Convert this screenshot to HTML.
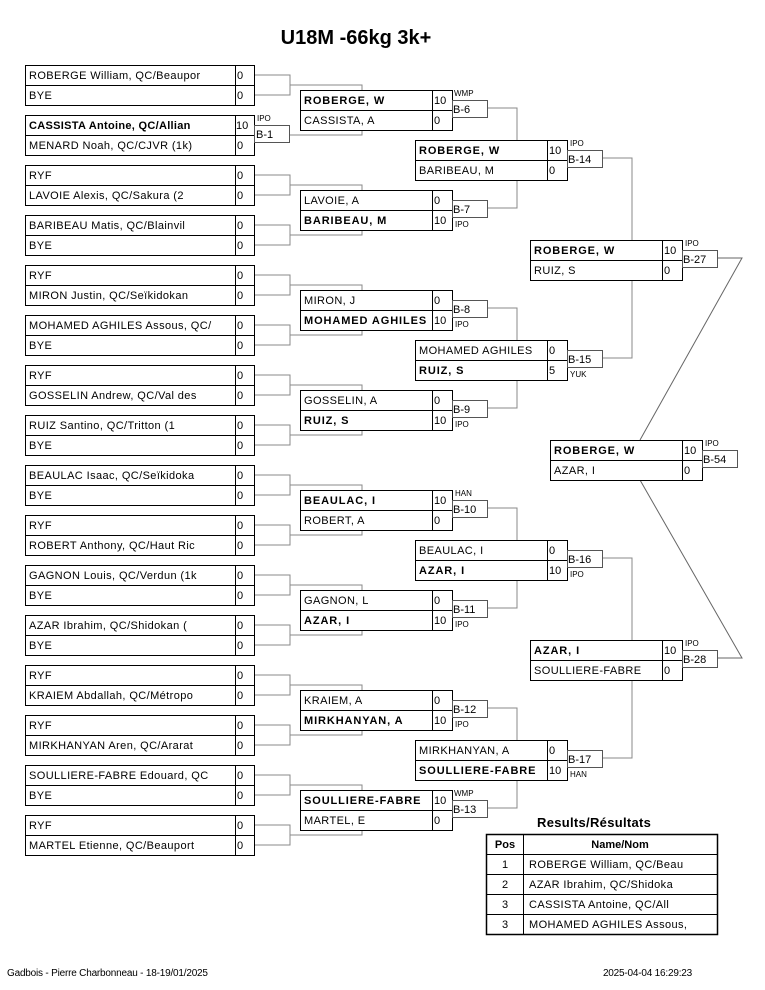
<!DOCTYPE html>
<html><head><meta charset="utf-8"><style>
html,body{margin:0;padding:0;background:#fff;}
svg{display:block;font-family:"Liberation Sans",sans-serif;}
.n{font-size:11px;letter-spacing:0.4px;fill:#000}
.b{font-size:11px;font-weight:bold;letter-spacing:0.9px;fill:#000}
.s{font-size:11px;fill:#000}
.t{font-size:10px;fill:#000}
.l{font-size:8px;fill:#000}
.box{fill:#fff;stroke:#000;stroke-width:1}
.tag{fill:#fff;stroke:#555;stroke-width:1}
.c{fill:none;stroke:#888;stroke-width:1}
</style></head><body>
<svg width="765" height="990" viewBox="0 0 765 990" xmlns="http://www.w3.org/2000/svg">
<text x="356" y="44" text-anchor="middle" style="font-size:20px;font-weight:bold">U18M -66kg 3k+</text>

<!-- connectors -->
<path class="c" d="M254 75H290V95H254M290 85H362V90
M289 135H362V130
M254 175H290V195H254M290 185H362V190
M254 225H290V245H254M290 235H362V230
M254 275H290V295H254M290 285H362V290
M254 325H290V345H254M290 335H362V330
M254 375H290V395H254M290 385H362V390
M254 425H290V445H254M290 435H362V430
M254 475H290V495H254M290 485H362V490
M254 525H290V545H254M290 535H362V530
M254 575H290V595H254M290 585H362V590
M254 625H290V645H254M290 635H362V630
M254 675H290V695H254M290 685H362V690
M254 725H290V745H254M290 735H362V730
M254 775H290V795H254M290 785H362V790
M254 825H290V845H254M290 835H362V830
M487 108H517V140 M487 208H517V180 M487 308H517V340 M487 408H517V380
M487 508H517V540 M487 608H517V580 M487 708H517V740 M487 808H517V780
M602 158H632V240 M602 358H632V280 M602 558H632V640 M602 758H632V680"/>
<path d="M717 258H742L640 440 M717 658H742L640 480" fill="none" stroke="#666" stroke-width="1"/>

<!-- Round 1 -->
<g>
<rect class="box" x="25.5" y="65.5" width="229" height="40"/><path d="M25 85.5H254M235.5 65V105" stroke="#000"/>
<text class="n" x="29" y="79">ROBERGE William, QC/Beaupor</text><text class="s" x="237" y="79">0</text>
<text class="n" x="29" y="99">BYE</text><text class="s" x="237" y="99">0</text>

<rect class="box" x="25.5" y="115.5" width="229" height="40"/><path d="M25 135.5H254M235.5 115V155" stroke="#000"/>
<text class="b" x="29" y="129" style="letter-spacing:0.3px">CASSISTA Antoine, QC/Allian</text><text class="s" x="236" y="129">10</text>
<text class="n" x="29" y="149">MENARD Noah, QC/CJVR (1k)</text><text class="s" x="237" y="149">0</text>
<rect class="tag" x="254.5" y="125.5" width="35" height="17"/><text class="s" x="256" y="138">B-1</text><text class="l" x="257" y="121">IPO</text>

<rect class="box" x="25.5" y="165.5" width="229" height="40"/><path d="M25 185.5H254M235.5 165V205" stroke="#000"/>
<text class="n" x="29" y="179">RYF</text><text class="s" x="237" y="179">0</text>
<text class="n" x="29" y="199">LAVOIE Alexis, QC/Sakura (2</text><text class="s" x="237" y="199">0</text>

<rect class="box" x="25.5" y="215.5" width="229" height="40"/><path d="M25 235.5H254M235.5 215V255" stroke="#000"/>
<text class="n" x="29" y="229">BARIBEAU Matis, QC/Blainvil</text><text class="s" x="237" y="229">0</text>
<text class="n" x="29" y="249">BYE</text><text class="s" x="237" y="249">0</text>

<rect class="box" x="25.5" y="265.5" width="229" height="40"/><path d="M25 285.5H254M235.5 265V305" stroke="#000"/>
<text class="n" x="29" y="279">RYF</text><text class="s" x="237" y="279">0</text>
<text class="n" x="29" y="299">MIRON Justin, QC/Seïkidokan</text><text class="s" x="237" y="299">0</text>

<rect class="box" x="25.5" y="315.5" width="229" height="40"/><path d="M25 335.5H254M235.5 315V355" stroke="#000"/>
<text class="n" x="29" y="329">MOHAMED AGHILES Assous, QC/</text><text class="s" x="237" y="329">0</text>
<text class="n" x="29" y="349">BYE</text><text class="s" x="237" y="349">0</text>

<rect class="box" x="25.5" y="365.5" width="229" height="40"/><path d="M25 385.5H254M235.5 365V405" stroke="#000"/>
<text class="n" x="29" y="379">RYF</text><text class="s" x="237" y="379">0</text>
<text class="n" x="29" y="399">GOSSELIN Andrew, QC/Val des</text><text class="s" x="237" y="399">0</text>

<rect class="box" x="25.5" y="415.5" width="229" height="40"/><path d="M25 435.5H254M235.5 415V455" stroke="#000"/>
<text class="n" x="29" y="429">RUIZ Santino, QC/Tritton (1</text><text class="s" x="237" y="429">0</text>
<text class="n" x="29" y="449">BYE</text><text class="s" x="237" y="449">0</text>

<rect class="box" x="25.5" y="465.5" width="229" height="40"/><path d="M25 485.5H254M235.5 465V505" stroke="#000"/>
<text class="n" x="29" y="479">BEAULAC Isaac, QC/Seïkidoka</text><text class="s" x="237" y="479">0</text>
<text class="n" x="29" y="499">BYE</text><text class="s" x="237" y="499">0</text>

<rect class="box" x="25.5" y="515.5" width="229" height="40"/><path d="M25 535.5H254M235.5 515V555" stroke="#000"/>
<text class="n" x="29" y="529">RYF</text><text class="s" x="237" y="529">0</text>
<text class="n" x="29" y="549">ROBERT Anthony, QC/Haut Ric</text><text class="s" x="237" y="549">0</text>

<rect class="box" x="25.5" y="565.5" width="229" height="40"/><path d="M25 585.5H254M235.5 565V605" stroke="#000"/>
<text class="n" x="29" y="579">GAGNON Louis, QC/Verdun (1k</text><text class="s" x="237" y="579">0</text>
<text class="n" x="29" y="599">BYE</text><text class="s" x="237" y="599">0</text>

<rect class="box" x="25.5" y="615.5" width="229" height="40"/><path d="M25 635.5H254M235.5 615V655" stroke="#000"/>
<text class="n" x="29" y="629">AZAR Ibrahim, QC/Shidokan (</text><text class="s" x="237" y="629">0</text>
<text class="n" x="29" y="649">BYE</text><text class="s" x="237" y="649">0</text>

<rect class="box" x="25.5" y="665.5" width="229" height="40"/><path d="M25 685.5H254M235.5 665V705" stroke="#000"/>
<text class="n" x="29" y="679">RYF</text><text class="s" x="237" y="679">0</text>
<text class="n" x="29" y="699">KRAIEM Abdallah, QC/Métropo</text><text class="s" x="237" y="699">0</text>

<rect class="box" x="25.5" y="715.5" width="229" height="40"/><path d="M25 735.5H254M235.5 715V755" stroke="#000"/>
<text class="n" x="29" y="729">RYF</text><text class="s" x="237" y="729">0</text>
<text class="n" x="29" y="749">MIRKHANYAN Aren, QC/Ararat</text><text class="s" x="237" y="749">0</text>

<rect class="box" x="25.5" y="765.5" width="229" height="40"/><path d="M25 785.5H254M235.5 765V805" stroke="#000"/>
<text class="n" x="29" y="779">SOULLIERE-FABRE Edouard, QC</text><text class="s" x="237" y="779">0</text>
<text class="n" x="29" y="799">BYE</text><text class="s" x="237" y="799">0</text>

<rect class="box" x="25.5" y="815.5" width="229" height="40"/><path d="M25 835.5H254M235.5 815V855" stroke="#000"/>
<text class="n" x="29" y="829">RYF</text><text class="s" x="237" y="829">0</text>
<text class="n" x="29" y="849">MARTEL Etienne, QC/Beauport</text><text class="s" x="237" y="849">0</text>
</g>

<!-- Round 2 -->
<g>
<rect class="box" x="300.5" y="90.5" width="152" height="40"/><path d="M300 110.5H452M432.5 90V130" stroke="#000"/>
<text class="b" x="304" y="104">ROBERGE, W</text><text class="s" x="434" y="104">10</text>
<text class="n" x="304" y="124">CASSISTA, A</text><text class="s" x="434" y="124">0</text>
<rect class="tag" x="452.5" y="100.5" width="35" height="17"/><text class="s" x="453" y="113">B-6</text><text class="l" x="454" y="96">WMP</text>

<rect class="box" x="300.5" y="190.5" width="152" height="40"/><path d="M300 210.5H452M432.5 190V230" stroke="#000"/>
<text class="n" x="304" y="204">LAVOIE, A</text><text class="s" x="434" y="204">0</text>
<text class="b" x="304" y="224">BARIBEAU, M</text><text class="s" x="434" y="224">10</text>
<rect class="tag" x="452.5" y="200.5" width="35" height="17"/><text class="s" x="453" y="213">B-7</text><text class="l" x="455" y="227">IPO</text>

<rect class="box" x="300.5" y="290.5" width="152" height="40"/><path d="M300 310.5H452M432.5 290V330" stroke="#000"/>
<text class="n" x="304" y="304">MIRON, J</text><text class="s" x="434" y="304">0</text>
<text class="b" x="304" y="324">MOHAMED AGHILES</text><text class="s" x="434" y="324">10</text>
<rect class="tag" x="452.5" y="300.5" width="35" height="17"/><text class="s" x="453" y="313">B-8</text><text class="l" x="455" y="327">IPO</text>

<rect class="box" x="300.5" y="390.5" width="152" height="40"/><path d="M300 410.5H452M432.5 390V430" stroke="#000"/>
<text class="n" x="304" y="404">GOSSELIN, A</text><text class="s" x="434" y="404">0</text>
<text class="b" x="304" y="424">RUIZ, S</text><text class="s" x="434" y="424">10</text>
<rect class="tag" x="452.5" y="400.5" width="35" height="17"/><text class="s" x="453" y="413">B-9</text><text class="l" x="455" y="427">IPO</text>

<rect class="box" x="300.5" y="490.5" width="152" height="40"/><path d="M300 510.5H452M432.5 490V530" stroke="#000"/>
<text class="b" x="304" y="504">BEAULAC, I</text><text class="s" x="434" y="504">10</text>
<text class="n" x="304" y="524">ROBERT, A</text><text class="s" x="434" y="524">0</text>
<rect class="tag" x="452.5" y="500.5" width="35" height="17"/><text class="s" x="453" y="513">B-10</text><text class="l" x="455" y="496">HAN</text>

<rect class="box" x="300.5" y="590.5" width="152" height="40"/><path d="M300 610.5H452M432.5 590V630" stroke="#000"/>
<text class="n" x="304" y="604">GAGNON, L</text><text class="s" x="434" y="604">0</text>
<text class="b" x="304" y="624">AZAR, I</text><text class="s" x="434" y="624">10</text>
<rect class="tag" x="452.5" y="600.5" width="35" height="17"/><text class="s" x="453" y="613">B-11</text><text class="l" x="455" y="627">IPO</text>

<rect class="box" x="300.5" y="690.5" width="152" height="40"/><path d="M300 710.5H452M432.5 690V730" stroke="#000"/>
<text class="n" x="304" y="704">KRAIEM, A</text><text class="s" x="434" y="704">0</text>
<text class="b" x="304" y="724">MIRKHANYAN, A</text><text class="s" x="434" y="724">10</text>
<rect class="tag" x="452.5" y="700.5" width="35" height="17"/><text class="s" x="453" y="713">B-12</text><text class="l" x="455" y="727">IPO</text>

<rect class="box" x="300.5" y="790.5" width="152" height="40"/><path d="M300 810.5H452M432.5 790V830" stroke="#000"/>
<text class="b" x="304" y="804">SOULLIERE-FABRE</text><text class="s" x="434" y="804">10</text>
<text class="n" x="304" y="824">MARTEL, E</text><text class="s" x="434" y="824">0</text>
<rect class="tag" x="452.5" y="800.5" width="35" height="17"/><text class="s" x="453" y="813">B-13</text><text class="l" x="454" y="796">WMP</text>
</g>

<!-- Round 3 -->
<g>
<rect class="box" x="415.5" y="140.5" width="152" height="40"/><path d="M415 160.5H567M547.5 140V180" stroke="#000"/>
<text class="b" x="419" y="154">ROBERGE, W</text><text class="s" x="549" y="154">10</text>
<text class="n" x="419" y="174">BARIBEAU, M</text><text class="s" x="549" y="174">0</text>
<rect class="tag" x="567.5" y="150.5" width="35" height="17"/><text class="s" x="568" y="163">B-14</text><text class="l" x="570" y="146">IPO</text>

<rect class="box" x="415.5" y="340.5" width="152" height="40"/><path d="M415 360.5H567M547.5 340V380" stroke="#000"/>
<text class="n" x="419" y="354">MOHAMED AGHILES</text><text class="s" x="549" y="354">0</text>
<text class="b" x="419" y="374">RUIZ, S</text><text class="s" x="549" y="374">5</text>
<rect class="tag" x="567.5" y="350.5" width="35" height="17"/><text class="s" x="568" y="363">B-15</text><text class="l" x="570" y="377">YUK</text>

<rect class="box" x="415.5" y="540.5" width="152" height="40"/><path d="M415 560.5H567M547.5 540V580" stroke="#000"/>
<text class="n" x="419" y="554">BEAULAC, I</text><text class="s" x="549" y="554">0</text>
<text class="b" x="419" y="574">AZAR, I</text><text class="s" x="549" y="574">10</text>
<rect class="tag" x="567.5" y="550.5" width="35" height="17"/><text class="s" x="568" y="563">B-16</text><text class="l" x="570" y="577">IPO</text>

<rect class="box" x="415.5" y="740.5" width="152" height="40"/><path d="M415 760.5H567M547.5 740V780" stroke="#000"/>
<text class="n" x="419" y="754">MIRKHANYAN, A</text><text class="s" x="549" y="754">0</text>
<text class="b" x="419" y="774">SOULLIERE-FABRE</text><text class="s" x="549" y="774">10</text>
<rect class="tag" x="567.5" y="750.5" width="35" height="17"/><text class="s" x="568" y="763">B-17</text><text class="l" x="570" y="777">HAN</text>
</g>

<!-- Round 4 -->
<g>
<rect class="box" x="530.5" y="240.5" width="152" height="40"/><path d="M530 260.5H682M662.5 240V280" stroke="#000"/>
<text class="b" x="534" y="254">ROBERGE, W</text><text class="s" x="664" y="254">10</text>
<text class="n" x="534" y="274">RUIZ, S</text><text class="s" x="664" y="274">0</text>
<rect class="tag" x="682.5" y="250.5" width="35" height="17"/><text class="s" x="683" y="263">B-27</text><text class="l" x="685" y="246">IPO</text>

<rect class="box" x="530.5" y="640.5" width="152" height="40"/><path d="M530 660.5H682M662.5 640V680" stroke="#000"/>
<text class="b" x="534" y="654">AZAR, I</text><text class="s" x="664" y="654">10</text>
<text class="n" x="534" y="674">SOULLIERE-FABRE</text><text class="s" x="664" y="674">0</text>
<rect class="tag" x="682.5" y="650.5" width="35" height="17"/><text class="s" x="683" y="663">B-28</text><text class="l" x="685" y="646">IPO</text>
</g>

<!-- Final -->
<g>
<rect class="box" x="550.5" y="440.5" width="152" height="40"/><path d="M550 460.5H702M682.5 440V480" stroke="#000"/>
<text class="b" x="554" y="454">ROBERGE, W</text><text class="s" x="684" y="454">10</text>
<text class="n" x="554" y="474">AZAR, I</text><text class="s" x="684" y="474">0</text>
<rect class="tag" x="702.5" y="450.5" width="35" height="17"/><text class="s" x="703" y="463">B-54</text><text class="l" x="705" y="446">IPO</text>
</g>

<!-- Results -->
<text x="537" y="827" style="font-size:13px;font-weight:bold;letter-spacing:0.3px">Results/Résultats</text>
<rect x="486.5" y="834.5" width="231" height="100" fill="#fff" stroke="#000" stroke-width="1.5"/>
<path d="M486 854.5H717M486 874.5H717M486 894.5H717M486 914.5H717M523.5 834V934" stroke="#000" stroke-width="1"/>
<text x="505" y="848" text-anchor="middle" style="font-size:11px;font-weight:bold">Pos</text>
<text x="620" y="848" text-anchor="middle" style="font-size:11px;font-weight:bold">Name/Nom</text>
<text class="s" x="505" y="868" text-anchor="middle">1</text><text class="n" x="529" y="868">ROBERGE William, QC/Beau</text>
<text class="s" x="505" y="888" text-anchor="middle">2</text><text class="n" x="529" y="888">AZAR Ibrahim, QC/Shidoka</text>
<text class="s" x="505" y="908" text-anchor="middle">3</text><text class="n" x="529" y="908">CASSISTA Antoine, QC/All</text>
<text class="s" x="505" y="928" text-anchor="middle">3</text><text class="n" x="529" y="928">MOHAMED AGHILES Assous,</text>

<!-- Footer -->
<text class="t" x="7" y="976" style="letter-spacing:-0.2px">Gadbois - Pierre Charbonneau - 18-19/01/2025</text>
<text class="t" x="692" y="976" text-anchor="end" style="letter-spacing:-0.2px">2025-04-04 16:29:23</text>
</svg>
</body></html>
